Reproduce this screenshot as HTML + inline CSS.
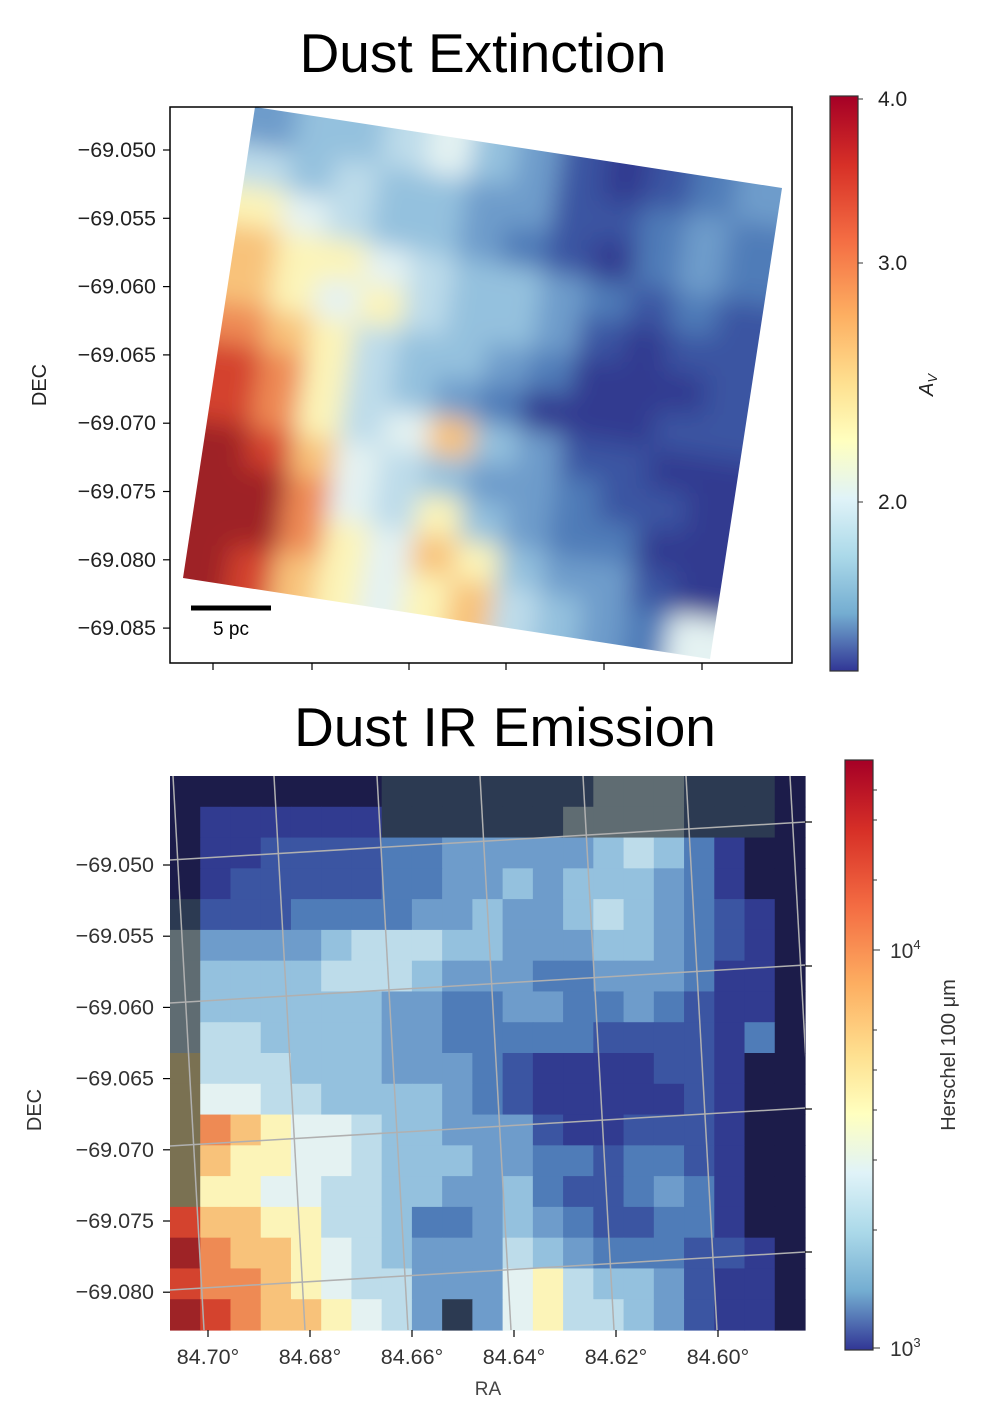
<!DOCTYPE html>
<html><head><meta charset="utf-8"><style>
body{margin:0;background:#fff;font-family:"Liberation Sans","DejaVu Sans",sans-serif;}
svg text{font-family:"Liberation Sans","DejaVu Sans",sans-serif;}
</style></head><body>
<svg id="fig" width="985" height="1421" viewBox="0 0 985 1421" xmlns="http://www.w3.org/2000/svg">
<defs>
<clipPath id="quad"><polygon points="255,107 782,188 710,659 183,578"/></clipPath>
<clipPath id="botclip"><rect x="170" y="776" width="635" height="554"/></clipPath>
<filter id="blur" x="-10%" y="-10%" width="120%" height="120%"><feGaussianBlur stdDeviation="13"/></filter>
<linearGradient id="cb1" x1="0" y1="0" x2="0" y2="1">
<stop offset="0" stop-color="#a50026"/><stop offset="0.12" stop-color="#d73027"/><stop offset="0.25" stop-color="#f46d43"/><stop offset="0.38" stop-color="#fdae61"/><stop offset="0.5" stop-color="#fee090"/><stop offset="0.6" stop-color="#ffffbf"/><stop offset="0.7" stop-color="#e0f3f8"/><stop offset="0.8" stop-color="#abd9e9"/><stop offset="0.9" stop-color="#74add1"/><stop offset="1" stop-color="#313695"/></linearGradient>
</defs>
<text x="483" y="72" font-size="55" text-anchor="middle">Dust Extinction</text>
<g id="topPanel"></g>
<text x="505" y="746" font-size="55" text-anchor="middle">Dust IR Emission</text>
<g id="botPanel"></g>
</svg>
<script>
const NS="http://www.w3.org/2000/svg";
const pal={n:"#1c1c4a",g:"#2c3a52",h:"#5f6c72",o:"#7a7152","1":"#313b90","2":"#3b55a2","3":"#4f7cb8","4":"#6e9ccb","5":"#94c1de","6":"#bddcea","7":"#e4f2f2","8":"#fcf4b8","9":"#f8c27a",a:"#ee8a54",b:"#d4432e",c:"#9e2326"};
// Top map values (rows along DEC, cols along RA), colour-index chars
const extRows=["455675421234","656554422343","876554321343","988765543232","987865542122","a98655431112","ba8654311122","ba8679542211","cb9765443221","cca768543311","cca879854421","cb9878965437"];
// Bottom map values
const irRows=["nnnnnnnggggggghhhgggn","n111111gggggghhhhgggn","n112222334444456531nn","n122222334454555431nn","g222333344544565432 1n","h444456665544455432 1n","h5555666544433444311n","h5555554433443343211n","h665555443333322221 3n","o666555444321111221nn","o776655554321111121nn","oa98776554442112221nn","o988776555443323321nn","o887766554453223431nn","b998866533454322331nn","ca998765444654333221n","baa98766444786554211n","cba998764g4786654211n"];
const decTop=["−69.050","−69.055","−69.060","−69.065","−69.070","−69.075","−69.080","−69.085"];
const decBot=["−69.050","−69.055","−69.060","−69.065","−69.070","−69.075","−69.080"];
const raLabels=["84.70°","84.68°","84.66°","84.64°","84.62°","84.60°"];
const cb1Ticks=["4.0","3.0","2.0"];
const cb1Vals=[4.0,3.0,2.0];

function el(tag,attrs,parent,txt){const e=document.createElementNS(NS,tag);for(const k in attrs)e.setAttribute(k,attrs[k]);if(txt!==undefined)e.textContent=txt;parent.appendChild(e);return e;}
const topG=document.getElementById("topPanel"), botG=document.getElementById("botPanel");

// ---- top panel
const TL=[255,107],U=[527,81],V=[-72,471];
const mapG=el("g",{"clip-path":"url(#quad)"},topG);


const inner=el("g",{filter:"url(#blur)"},mapG);
const nr=extRows.length,nc=extRows[0].length;
for(let r=-1;r<=nr;r++)for(let c=-1;c<=nc;c++){
 const rr=Math.min(nr-1,Math.max(0,r)),cc=Math.min(nc-1,Math.max(0,c));
 const ch=extRows[rr][cc];
 const u0=c/nc,v0=r/nr,u1=(c+1)/nc,v1=(r+1)/nr;
 const P=(u,v)=>[TL[0]+u*U[0]+v*V[0],TL[1]+u*U[1]+v*V[1]];
 const pts=[P(u0,v0),P(u1,v0),P(u1,v1),P(u0,v1)].map(p=>p.join(",")).join(" ");
 const cell=el("polygon",{points:pts,fill:pal[ch],stroke:pal[ch],"stroke-width":"1.5"},inner);
 
 
}
const f1=el("rect",{x:170,y:107,width:622,height:556,fill:"none",stroke:"#000","stroke-width":1.5},topG);


const yT=i=>150+i*68.3;
decTop.forEach((t,i)=>{const y=yT(i);el("line",{x1:163,x2:170,y1:y,y2:y,stroke:"#000","stroke-width":1.2},topG);
 const tx=el("text",{x:156,y:y+7,"font-size":21.5,"text-anchor":"end",fill:"#222"},topG,t);
 
 });
[213,312,409,506,604,702].forEach(x=>el("line",{x1:x,x2:x,y1:663,y2:670,stroke:"#000","stroke-width":1.2},topG));
const yl1=el("text",{x:0,y:0,"font-size":20,"text-anchor":"middle",transform:"translate(46,385) rotate(-90)",fill:"#222"},topG,"DEC");


const sb=el("line",{x1:191,x2:271,y1:608,y2:608,stroke:"#000","stroke-width":5},topG);


const sbt=el("text",{x:231,y:635,"font-size":19,"text-anchor":"middle"},topG,"5 pc");


// colorbar 1
const cb=el("rect",{x:830,y:96,width:28,height:575,fill:"url(#cb1)",stroke:"#333","stroke-width":1.2},topG);


const cbPos={"4":99,"3":263,"2":502};
cb1Vals.forEach((v,i)=>{const y=cbPos[String(v)];el("line",{x1:858,x2:863,y1:y,y2:y,stroke:"#333"},topG);
 const t=el("text",{x:878,y:y+7,"font-size":21,fill:"#222"},topG,cb1Ticks[i]);
 
 });
const avl=el("text",{x:0,y:0,"font-size":20,"font-style":"italic",transform:"translate(933,385) rotate(-90)","text-anchor":"middle",fill:"#222"},topG,"A");


el("tspan",{"font-size":13,dy:4},avl,"V");

// ---- bottom panel
const X0=170,Y0=776,W=635,H=554;
const bm=el("g",{},botG);


const br=irRows.length;
irRows.forEach((rowRaw,r)=>{const row=rowRaw.replace(/ /g,"");const cn=21;for(let c=0;c<cn;c++){const ch=row[c]||"n";
 const cw=W/cn,rh=H/br;
 const cell=el("rect",{x:X0+c*cw,y:Y0+r*rh,width:cw+0.6,height:rh+0.6,fill:pal[ch]||pal.n},bm);
 
 }});
// grid
const gg=el("g",{stroke:"#b0b0b0","stroke-width":1.5,fill:"none","clip-path":"url(#botclip)"},botG);


[173,274,377,480,583,686,790].forEach(x=>el("line",{x1:x,y1:Y0,x2:x+31,y2:Y0+H},gg));
[[860,822],[1003,965],[1146,1108],[1290,1252]].forEach(p=>el("line",{x1:X0,y1:p[0],x2:X0+W,y2:p[1]},gg));
const yB=i=>865+i*71.2;
decBot.forEach((t,i)=>{const y=yB(i);el("line",{x1:163,x2:170,y1:y,y2:y,stroke:"#000","stroke-width":1.2},botG);
 const tx=el("text",{x:154,y:y+7,"font-size":21.5,"text-anchor":"end",fill:"#333"},botG,t);
 
 });
[822,966,1109,1252].forEach(y=>el("line",{x1:805,x2:812,y1:y,y2:y,stroke:"#000","stroke-width":1.2},botG));
raLabels.forEach((t,i)=>{const x=208+i*102;el("line",{x1:x,x2:x,y1:1330,y2:1337,stroke:"#000","stroke-width":1.2},botG);
 const tx=el("text",{x:x,y:1364,"font-size":21.5,"text-anchor":"middle",fill:"#333"},botG,t);
 
 });
const xl=el("text",{x:488,y:1395,"font-size":19,"text-anchor":"middle",fill:"#444"},botG,"RA");


const yl2=el("text",{x:0,y:0,"font-size":20,"text-anchor":"middle",transform:"translate(41,1110) rotate(-90)",fill:"#333"},botG,"DEC");


const cb2=el("rect",{x:845,y:760,width:28,height:590,fill:"url(#cb1)",stroke:"#333","stroke-width":1.2},botG);


[[950,"4"],[1348,"3"]].forEach(p=>{el("line",{x1:873,x2:880,y1:p[0],y2:p[0],stroke:"#333"},botG);
 const t=el("text",{x:890,y:p[0]+8,"font-size":21,fill:"#333"},botG,"10");
 
 
 el("tspan",{"font-size":13,dy:-9},t,p[1]);});
[1230,1160,1110,1070,1030,880,820,790].forEach(y=>el("line",{x1:873,x2:877,y1:y,y2:y,stroke:"#333"},botG));
const hl=el("text",{x:0,y:0,"font-size":20,transform:"translate(955,1055) rotate(-90)","text-anchor":"middle",fill:"#333"},botG,"Herschel 100 μm");


</script>
</body></html>
